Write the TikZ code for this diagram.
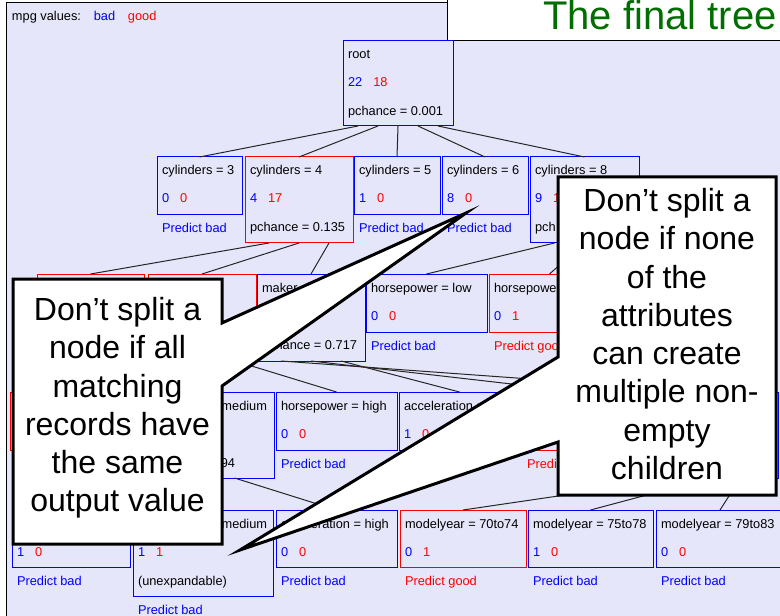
\documentclass[tikz,border=0pt]{standalone}
\usepackage{fontspec}
\setmainfont{Liberation Sans}
\usetikzlibrary{calc}
\definecolor{bgl}{RGB}{230,230,250}
\definecolor{tblue}{RGB}{0,0,255}
\definecolor{tred}{RGB}{255,0,0}
\definecolor{tgreen}{RGB}{0,110,0}
% box: name, left, top, right, bottom, colour
\newcommand{\tbox}[6]{\node[treebox, draw=#6, minimum width={(#4-#2)*0.75pt}, minimum height={(#5-#3)*0.75pt}] (#1) at (#2,#3) {};}
\newcommand{\ttl}[2]{\node[txt] (#1-t) at ($(#1.north west)+(5,18)$) {#2};}
\newcommand{\cnt}[3]{\node[txt] (#1-c) at ($(#1.north west)+(5,46)$) {\textcolor{tblue}{#2}\hspace{0.86em}\textcolor{tred}{#3}};}
\newcommand{\pch}[2]{\node[txt] (#1-p) at ($(#1.north west)+(5,75)$) {#2};}
\newcommand{\pred}[3]{\node[txt, text=#2] (#1-r) at ($(#1.south west)+(5,18)$) {#3};}
\newcommand{\conn}[3]{\draw[edge] ($(#1.south)+(#2,0)$) -- (#3.north);}
\begin{document}
\begin{tikzpicture}[x=0.75pt,y=-0.75pt,
  treebox/.style={line width=0.75pt, inner sep=0pt, outer sep=0pt, anchor=north west},
  txt/.style={anchor=base west, inner sep=0pt, outer sep=0pt, font=\fontsize{9.6}{11}\selectfont},
  txtr/.style={txt, anchor=base east},
  edge/.style={draw=black!85, line width=0.75pt},
  callout/.style={fill=white, draw=black, line width=2.25pt, line join=miter, miter limit=20},
  big/.style={align=center, inner sep=0pt, font=\fontsize{24}{28.7}\selectfont}]
\useasboundingbox (0,0) rectangle (780,616);
\fill[white] (0,0) rectangle (780,616);
\filldraw[fill=bgl, draw=black, line width=0.75pt] (6,3) rectangle (800,630);
\filldraw[fill=white, draw=black, line width=0.75pt] (447,-10) rectangle (800,41);
\node[anchor=base west, inner sep=0pt, text=tgreen, font=\fontsize{30}{32}\selectfont] (title) at (543,30) {The final tree};
\node[txt] (legend) at (12,21) {mpg values:\hspace{1em}\textcolor{tblue}{bad}\hspace{1em}\textcolor{tred}{good}};

% level 0
\tbox{root}{343}{41}{453}{126}{tblue}
\ttl{root}{root}\cnt{root}{22}{18}\pch{root}{pchance = 0.001}

% level 1
\tbox{c3}{157}{157}{242}{215}{tblue}
\ttl{c3}{cylinders = 3}\cnt{c3}{0}{0}\pred{c3}{tblue}{Predict bad}
\tbox{c4}{245}{157}{353}{243}{tred}
\ttl{c4}{cylinders = 4}\cnt{c4}{4}{17}\pch{c4}{pchance = 0.135}
\tbox{c5}{354}{157}{440}{215}{tblue}
\ttl{c5}{cylinders = 5}\cnt{c5}{1}{0}\pred{c5}{tblue}{Predict bad}
\tbox{c6}{442}{157}{528}{215}{tblue}
\ttl{c6}{cylinders = 6}\cnt{c6}{8}{0}\pred{c6}{tblue}{Predict bad}
\tbox{c8}{530}{157}{639}{243}{tblue}
\ttl{c8}{cylinders = 8}\cnt{c8}{9}{1}\pch{c8}{pch}

\conn{root}{-40}{c3}\conn{root}{-20}{c4}\conn{root}{0}{c5}\conn{root}{20}{c6}\conn{root}{40}{c8}

% level 2
\tbox{a1}{37}{274}{144}{332}{tred}
\tbox{a2}{148}{274}{256}{360}{tred}
\tbox{maker}{257}{274}{365}{361}{tblue}
\ttl{maker}{maker}\pch{maker}{pchance = 0.717}
\tbox{hpl}{366}{274}{487}{332}{tblue}
\ttl{hpl}{horsepower = low}\cnt{hpl}{0}{0}\pred{hpl}{tblue}{Predict bad}
\tbox{hpm}{489}{274}{610}{332}{tred}
\ttl{hpm}{horsepower = medium}\cnt{hpm}{0}{1}\pred{hpm}{tred}{Predict good}

\conn{c4}{-30}{a1}\conn{c4}{0}{a2}\conn{c4}{30}{maker}
\conn{c8}{-30}{hpl}\conn{c8}{0}{hpm}

% level 3
\tbox{b1}{10}{392}{132}{450}{tred}
\tbox{b2}{135}{392}{274}{478}{tblue}
\node[txtr] (b2-t) at ($(b2.north east)+(-7,18)$) {medium};
\node[txtr] (b2-p) at ($(b2.north east)+(-39,75)$) {94};
\tbox{b3}{276}{392}{397}{450}{tblue}
\ttl{b3}{horsepower = high}\cnt{b3}{0}{0}\pred{b3}{tblue}{Predict bad}
\tbox{b4}{399}{392}{520}{450}{tblue}
\ttl{b4}{acceleration = low}\cnt{b4}{1}{0}
\tbox{b5}{522}{392}{641}{450}{tred}
\pred{b5}{tred}{Predict good}
\tbox{b6}{643}{392}{778}{478}{tblue}

\conn{a2}{-30}{b1}\conn{a2}{0}{b2}\conn{a2}{30}{b3}
\conn{maker}{30}{b4}\conn{maker}{0}{b5}\conn{maker}{-30}{b6}

% level 4
\tbox{d1}{12}{510}{130}{567}{tblue}
\cnt{d1}{1}{0}\pred{d1}{tblue}{Predict bad}
\tbox{d2}{133}{510}{273}{596}{tblue}
\ttl{d2}{acceleration = medium}\cnt{d2}{1}{1}\pch{d2}{(unexpandable)}\pred{d2}{tblue}{Predict bad}
\tbox{d3}{276}{510}{397}{567}{tblue}
\ttl{d3}{acceleration = high}\cnt{d3}{0}{0}\pred{d3}{tblue}{Predict bad}
\tbox{d4}{400}{510}{526}{567}{tred}
\ttl{d4}{modelyear = 70to74}\cnt{d4}{0}{1}\pred{d4}{tred}{Predict good}
\tbox{d5}{528}{510}{653}{567}{tblue}
\ttl{d5}{modelyear = 75to78}\cnt{d5}{1}{0}\pred{d5}{tblue}{Predict bad}
\tbox{d6}{656}{510}{784}{567}{tblue}
\ttl{d6}{modelyear = 79to83}\cnt{d6}{0}{0}\pred{d6}{tblue}{Predict bad}

\conn{b2}{-30}{d1}\conn{b2}{0}{d2}\conn{b2}{30}{d3}
\conn{b6}{-30}{d4}\conn{b6}{0}{d5}\conn{b6}{30}{d6}

% callouts
\draw[callout] (13,279) -- (222,279) -- (222,323) -- (466,213) -- (222,386) -- (222,544) -- (13,544) -- cycle;
\node[big] (note1) at (117.5,408) {Don’t split a\\node if all\\matching\\records have\\the same\\output value};
\draw[callout] (558,177) -- (776,177) -- (776,495) -- (558,495) -- (558,442) -- (240,550) -- (558,357) -- cycle;
\node[big] (note2) at (667,334) {Don’t split a\\node if none\\of the\\attributes\\can create\\multiple non-\\empty\\children};
\end{tikzpicture}
\end{document}
